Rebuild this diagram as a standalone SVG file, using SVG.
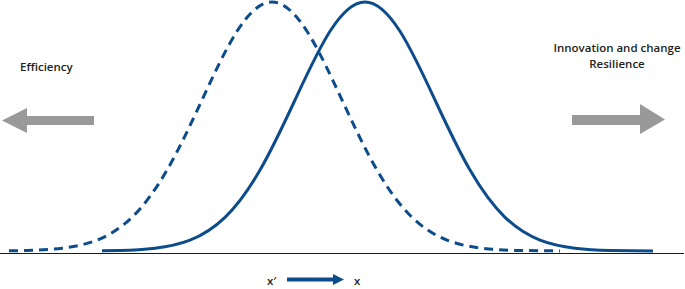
<svg xmlns="http://www.w3.org/2000/svg" width="685" height="289" viewBox="0 0 685 289">
<style>
.curve{fill:none;stroke:#0d4c8b;stroke-width:3;stroke-linejoin:round}
.dash{stroke-dasharray:9 6}
.garrow{fill:#999999}
.lbl{font-family:"Open Sans","Liberation Sans",sans-serif;font-weight:600;font-size:11.5px;fill:#231f20}
.axis{stroke:#1a1a1a;stroke-width:1.2;fill:none}
</style>
<defs>
<path id="gauss" d="M -263 250.8 L -245 250.5 C -233.3 250.2, -221.7 249.6, -210 248.2 C -198.3 246.8, -186.7 244.65, -175 240.1 C -163.3 235.55, -151.7 228.54, -140 217.3 C -128.3 206.06, -116.7 190.31, -105 170.1 C -93.3 149.89, -81.7 125.17, -70 100 C -58.3 74.83, -46.7 49.62, -35 31.3 C -23.3 12.98, -11.7 2, 0 2 C 11.7 2, 23.3 12.98, 35 31.3 C 46.7 49.62, 58.3 74.83, 70 100 C 81.7 125.17, 93.3 149.89, 105 170.1 C 116.7 190.31, 128.3 206.06, 140 217.3 C 151.7 228.54, 163.3 235.55, 175 240.1 C 186.7 244.65, 198.3 246.8, 210 248.2 C 221.7 249.6, 233.3 250.2, 245 250.5 L 288 250.9"/>
</defs>
<g id="axis">
<line class="axis" x1="0" y1="253.5" x2="684" y2="253.5"/>
</g>
<g id="curve-before">
<use href="#gauss" class="curve dash" transform="translate(272,0)"/>
</g>
<g id="curve-after">
<use href="#gauss" class="curve" transform="translate(365,0)"/>
</g>
<g id="efficiency">
<text class="lbl" x="20" y="71">Efficiency</text>
<polygon class="garrow" points="2,120.5 27,108 27,116 94,116 94,125 27,125 27,133"/>
</g>
<g id="innovation">
<text class="lbl" x="617" y="52" text-anchor="middle">Innovation and change</text>
<text class="lbl" x="617" y="68" text-anchor="middle">Resilience</text>
<polygon class="garrow" points="572,115 640,115 640,104 665,119.5 640,134 640,125 572,125"/>
</g>
<g id="shift">
<text class="lbl" x="267" y="285">x′</text>
<polygon fill="#0d4c8b" points="287,277.5 333,277.5 333,274 344,279.5 333,285 333,281.5 287,281.5"/>
<text class="lbl" x="354" y="285">x</text>
</g>
</svg>
